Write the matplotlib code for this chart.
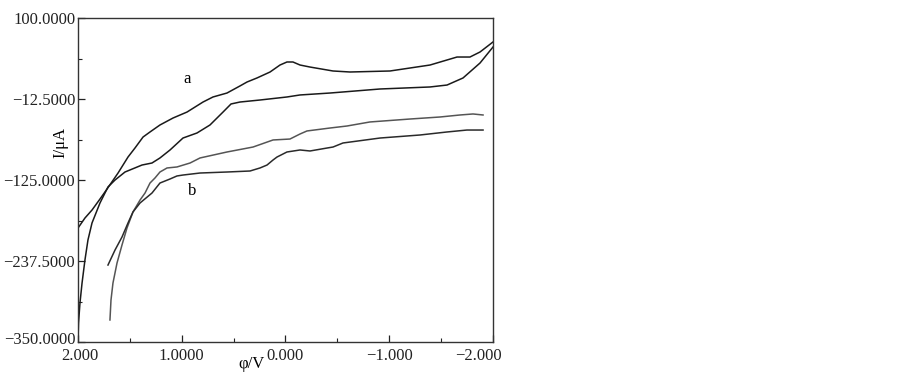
import matplotlib
matplotlib.use("Agg")
import matplotlib.pyplot as plt
from matplotlib.ticker import FixedLocator, FixedFormatter
from matplotlib.transforms import ScaledTranslation

plt.rcParams['font.family'] = ['Liberation Serif', 'DejaVu Serif']
plt.rcParams['mathtext.fontset'] = 'stix'

# Curve a, upper branch (potential V, current uA)
a_up_v = [2.000, 1.933, 1.865, 1.788, 1.720, 1.614, 1.518, 1.451, 1.373, 1.306,
          1.210, 1.084, 0.949, 0.795, 0.699, 0.564, 0.439, 0.371, 0.275, 0.149,
          0.053, -0.014, -0.072, -0.140, -0.236, -0.458, -0.622, -1.007, -1.393,
          -1.653, -1.778, -1.875, -2.000]
a_up_i = [-191.7, -177.8, -166.7, -151.4, -137.5, -115.3, -93.1, -80.6, -65.3, -58.3,
          -48.6, -38.9, -30.6, -16.7, -9.7, -4.2, 5.6, 11.1, 16.7, 25.0,
          34.7, 38.9, 38.9, 34.7, 31.9, 26.4, 25.0, 26.4, 34.7,
          45.8, 45.8, 52.8, 66.7]

# Curve a, lower branch
a_lo_v = [2.000, 1.995, 1.981, 1.961, 1.933, 1.904, 1.865, 1.788, 1.711, 1.643,
          1.547, 1.383, 1.287, 1.210, 1.113, 0.988, 0.853, 0.728, 0.602, 0.525,
          0.439, 0.246, -0.014, -0.140, -0.429, -0.911, -1.393, -1.557, -1.711,
          -1.875, -2.000]
a_lo_i = [-347.2, -323.6, -295.8, -268.1, -236.1, -208.3, -184.7, -156.9, -134.7, -125.0,
          -113.9, -104.2, -101.4, -94.4, -83.3, -66.7, -59.7, -48.6, -30.6, -19.4,
          -16.7, -13.9, -9.7, -6.9, -4.2, 1.4, 4.2, 6.9, 16.7,
          37.5, 59.7]

# Curve b, upper branch
b_up_v = [1.692, 1.682, 1.663, 1.624, 1.576, 1.528, 1.470, 1.402, 1.354, 1.306,
          1.258, 1.210, 1.142, 1.046, 0.920, 0.824, 0.564, 0.313, 0.120, -0.043,
          -0.140, -0.207, -0.429, -0.593, -0.814, -1.200, -1.489, -1.682, -1.807,
          -1.904]
b_up_i = [-319.4, -291.7, -268.1, -240.3, -215.3, -191.7, -169.4, -152.8, -143.1, -129.2,
          -122.2, -113.9, -108.3, -106.9, -101.4, -94.4, -86.1, -79.2, -69.4, -68.1,
          -61.1, -56.9, -52.8, -50.0, -44.4, -40.3, -37.5, -34.7, -33.3,
          -34.7]

# Curve b, lower branch
b_lo_v = [1.711, 1.643, 1.576, 1.518, 1.470, 1.402, 1.287, 1.210, 1.113, 1.046,
          0.988, 0.824, 0.564, 0.342, 0.246, 0.178, 0.120, 0.082, -0.014, -0.140,
          -0.236, -0.400, -0.458, -0.554, -0.911, -1.296, -1.557, -1.749, -1.904]
b_lo_i = [-243.1, -222.2, -204.2, -184.7, -169.4, -156.9, -143.1, -129.2, -123.6, -119.4,
          -118.1, -115.3, -113.9, -112.5, -108.3, -104.2, -97.2, -93.1, -86.1, -83.3,
          -84.7, -80.6, -79.2, -73.6, -66.7, -62.5, -58.3, -55.6, -55.6]

y_ticks = [100.0, -12.5, -125.0, -237.5, -350.0]
y_labels = ["100.0000", "\u221212.5000", "\u2212125.0000", "\u2212237.5000", "\u2212350.0000"]
y_minor = [43.75, -68.75, -181.25, -293.75]
x_ticks = [2.0, 1.0, 0.0, -1.0, -2.0]
x_labels = ["2.000", "1.0000", "0.000", "\u22121.000", "\u22122.000"]
x_minor = [1.5, 0.5, -0.5, -1.5]

fig = plt.figure(figsize=(9.03, 3.77), dpi=100)
ax = fig.add_axes([78/903, 35/377, 415/903, 324/377])

ax.plot(a_up_v, a_up_i, color='#1a1a1a', lw=1.1)
ax.plot(a_lo_v, a_lo_i, color='#1a1a1a', lw=1.1)
ax.plot(b_up_v, b_up_i, color='#555555', lw=1.1)
ax.plot(b_lo_v, b_lo_i, color='#2a2a2a', lw=1.1)

ax.set_xlim(2.0, -2.0)
ax.set_ylim(-350, 100)

ax.xaxis.set_major_locator(FixedLocator(x_ticks))
ax.xaxis.set_major_formatter(FixedFormatter(x_labels))
ax.xaxis.set_minor_locator(FixedLocator(x_minor))
ax.yaxis.set_major_locator(FixedLocator(y_ticks))
ax.yaxis.set_major_formatter(FixedFormatter(y_labels))
ax.yaxis.set_minor_locator(FixedLocator(y_minor))

ax.tick_params(which='major', direction='in', length=5, width=0.9, labelsize=12, colors='#222222')
ax.tick_params(axis='x', which='major', pad=4)
ax.tick_params(axis='y', which='major', pad=2)
ax.tick_params(which='minor', direction='in', length=3, width=0.8, colors='#222222')

for s in ax.spines.values():
    s.set_color('#333333')
    s.set_linewidth(1.0)

ax.set_xlabel("\u03c6/V", fontsize=12)
ax.xaxis.set_label_coords(0.419, -0.068)
ax.xaxis.label.set_verticalalignment('center')
ax.set_ylabel("I/\u03bcA", fontsize=12)
ax.yaxis.set_label_coords(-0.043, 0.617)
ax.yaxis.label.set_verticalalignment('center')

ax.text(0.949, 15.3, "a", fontsize=12, ha='center', va='center')
ax.text(0.901, -140.3, "b", fontsize=12, ha='center', va='center')

fig.canvas.draw()
xl = ax.get_xticklabels()
xl[0].set_transform(xl[0].get_transform() + ScaledTranslation(2/100, 0, fig.dpi_scale_trans))
xl[-1].set_transform(xl[-1].get_transform() + ScaledTranslation(-15/100, 0, fig.dpi_scale_trans))
yl = ax.get_yticklabels()
yl[-1].set_transform(yl[-1].get_transform() + ScaledTranslation(0, 4/100, fig.dpi_scale_trans))

fig.savefig("out.png", dpi=100, facecolor='white')
